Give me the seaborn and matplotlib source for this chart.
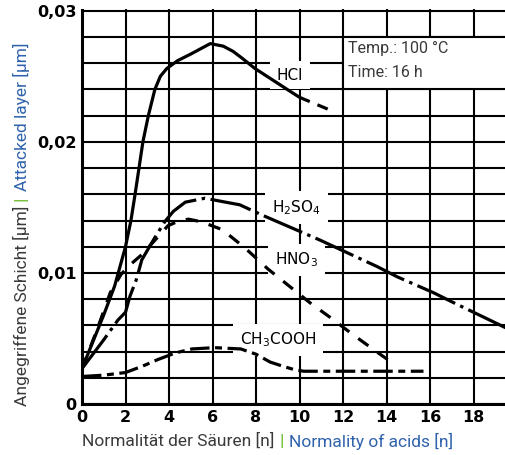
import matplotlib
matplotlib.use('Agg')
import matplotlib.pyplot as plt
import matplotlib.ticker as mticker
import seaborn as sns
from matplotlib.patches import Rectangle

# values (normality [n] vs. attacked layer [um])
hcl_x = [0, 1.0, 1.5, 2.0, 2.25, 2.44, 2.62, 2.8, 3.05, 3.35, 3.6, 3.9, 4.4,
         5.0, 5.9, 6.5, 6.95, 7.35, 7.95, 9.25, 10.0, 11.3]
hcl_y = [0.0027, 0.0068, 0.0090, 0.0120, 0.0140, 0.0160, 0.0180, 0.0200, 0.0220,
         0.0240, 0.0250, 0.0256, 0.0262, 0.0267, 0.0275, 0.0273, 0.0269, 0.0264,
         0.0256, 0.0242, 0.0234, 0.0225]
hcl_solid_end = 10.0

h2so4_x = [0, 1.0, 1.65, 2.0, 2.2, 2.5, 2.75, 3.35, 3.8, 4.2, 4.75, 5.65, 6.6, 7.25,
           8.3, 10.95, 13.55, 14.5, 16.15, 17.0, 18.75, 19.5]
h2so4_y = [0.0027, 0.0049, 0.0064, 0.0070, 0.0082, 0.0095, 0.0110, 0.0127, 0.0139,
           0.0147, 0.0154, 0.0157, 0.0154, 0.0152, 0.0144, 0.0125, 0.0105, 0.0097,
           0.0085, 0.0078, 0.0064, 0.0058]

hno3_x = [0, 0.7, 1.3, 1.8, 2.2, 2.75, 3.3, 3.95, 4.5, 4.9, 5.5, 6.45, 7.5, 8.55,
          9.6, 10.5, 11.5, 12.45, 13.45, 14.3]
hno3_y = [0.0027, 0.0057, 0.0085, 0.0099, 0.0106, 0.0114, 0.0124, 0.0136, 0.0140,
          0.0141, 0.0139, 0.0133, 0.0119, 0.0103, 0.0089, 0.0077, 0.0065, 0.0053,
          0.0041, 0.0031]

ch3cooh_x = [0, 1.0, 2.0, 2.8, 3.5, 4.3, 5.05, 6.1, 7.3, 8.0, 8.65, 9.2, 9.8, 10.2,
             12.0, 14.0, 15.7]
ch3cooh_y = [0.0021, 0.0022, 0.0024, 0.0029, 0.0034, 0.0039, 0.0042, 0.0043, 0.0042,
             0.0038, 0.0032, 0.0029, 0.0026, 0.0025, 0.0025, 0.0025, 0.0025]

x_ticks = [0, 2, 4, 6, 8, 10, 12, 14, 16, 18]
y_ticks = [0, 0.01, 0.02, 0.03]

GRAY = '#3a3a3a'
BLUE = '#2f62ad'
GREEN = '#7cc142'
NARROW = ['Roboto', 'DejaVu Sans']

sns.set_theme(style='white')
plt.rcParams['font.family'] = ['DejaVu Sans']
plt.rcParams['lines.scale_dashes'] = False

W, H = 505, 455
fig = plt.figure(figsize=(W / 100, H / 100), dpi=100)
ax = fig.add_axes([82 / W, 1 - 404 / H, (W - 82) / W, (404 - 9.5) / H])

lw = 2.3
n_solid = sum(1 for v in hcl_x if v <= hcl_solid_end)
sns.lineplot(x=hcl_x[:n_solid], y=hcl_y[:n_solid], color='black', lw=lw, ax=ax)
sns.lineplot(x=hcl_x[n_solid - 1:], y=hcl_y[n_solid - 1:], color='black', lw=lw,
             linestyle=(0, (8, 6)), ax=ax)
sns.lineplot(x=h2so4_x, y=h2so4_y, color='black', lw=lw,
             linestyle=(0, (30, 4, 2.5, 4)), ax=ax)
sns.lineplot(x=hno3_x, y=hno3_y, color='black', lw=lw,
             linestyle=(0, (9, 8)), ax=ax)
sns.lineplot(x=ch3cooh_x, y=ch3cooh_y, color='black', lw=lw,
             linestyle=(0, (14, 4, 5, 4)), ax=ax)
for line in ax.get_lines():
    line.set_zorder(4)

ax.set_xlim(0, (W - 82) / 21.75)
ax.set_ylim(0, 0.0301)
ax.xaxis.set_major_locator(mticker.FixedLocator(x_ticks))
ax.yaxis.set_major_locator(mticker.FixedLocator(y_ticks))
ax.yaxis.set_minor_locator(mticker.MultipleLocator(0.002))
ax.yaxis.set_major_formatter(mticker.FuncFormatter(
    lambda v, _: '0' if v == 0 else f'{v:.2f}'.replace('.', ',')))
ax.set_axisbelow(True)
ax.grid(which='both', axis='both', color='black', lw=1.5)
ax.tick_params(axis='both', which='both', length=0, labelsize=11.5,
               labelcolor='black', pad=4)
for lab in ax.get_xticklabels() + ax.get_yticklabels():
    lab.set_fontweight('bold')
for side in ['top', 'right']:
    ax.spines[side].set_visible(False)
for side in ['left', 'bottom']:
    ax.spines[side].set_color('black')
    ax.spines[side].set_linewidth(2.2)

# info box in the upper right
ax.add_patch(Rectangle((12, 0.024), 10, 0.004, facecolor='white',
                       edgecolor='black', lw=1.5, zorder=2))
ax.text(12.25, 0.0271, 'Temp.: 100 °C', family=NARROW, fontsize=11.5,
        color=GRAY, va='center', zorder=5)
ax.text(12.25, 0.0253, 'Time: 16 h', family=NARROW, fontsize=11.5,
        color=GRAY, va='center', zorder=5)

# curve labels with white background
box = dict(boxstyle='square,pad=0.45', facecolor='white', edgecolor='none')
for txt, x, y in [('HCl', 9.55, 0.0251), ('H$_2$SO$_4$', 9.85, 0.0150),
                  ('HNO$_3$', 9.85, 0.0110), ('CH$_3$COOH', 9.0, 0.0049)]:
    ax.text(x, y, txt, fontsize=11, color='black', ha='center', va='center',
            bbox=box, zorder=3)


def colored_label(parts, fixed, start, vertical, gap=5):
    renderer = fig.canvas.get_renderer()
    pos = start
    for s, color, weight in parts:
        if vertical:
            t = fig.text(fixed / W, 1 - pos / H, s, rotation=90, ha='center',
                         va='bottom', color=color, fontsize=12.5, family=NARROW,
                         fontweight=weight)
            pos -= t.get_window_extent(renderer).height + gap
        else:
            t = fig.text(pos / W, 1 - fixed / H, s, ha='left', va='center',
                         color=color, fontsize=12.5, family=NARROW,
                         fontweight=weight)
            pos += t.get_window_extent(renderer).width + gap


colored_label([('Normalität der Säuren [n]', GRAY, 'normal'),
               ('|', GREEN, 'bold'),
               ('Normality of acids [n]', BLUE, 'normal')],
              fixed=441, start=82, vertical=False)
colored_label([('Angegriffene Schicht [µm]', GRAY, 'normal'),
               ('|', GREEN, 'bold'),
               ('Attacked layer [µm]', BLUE, 'normal')],
              fixed=21, start=406, vertical=True)

fig.savefig('out.png', dpi=100)
